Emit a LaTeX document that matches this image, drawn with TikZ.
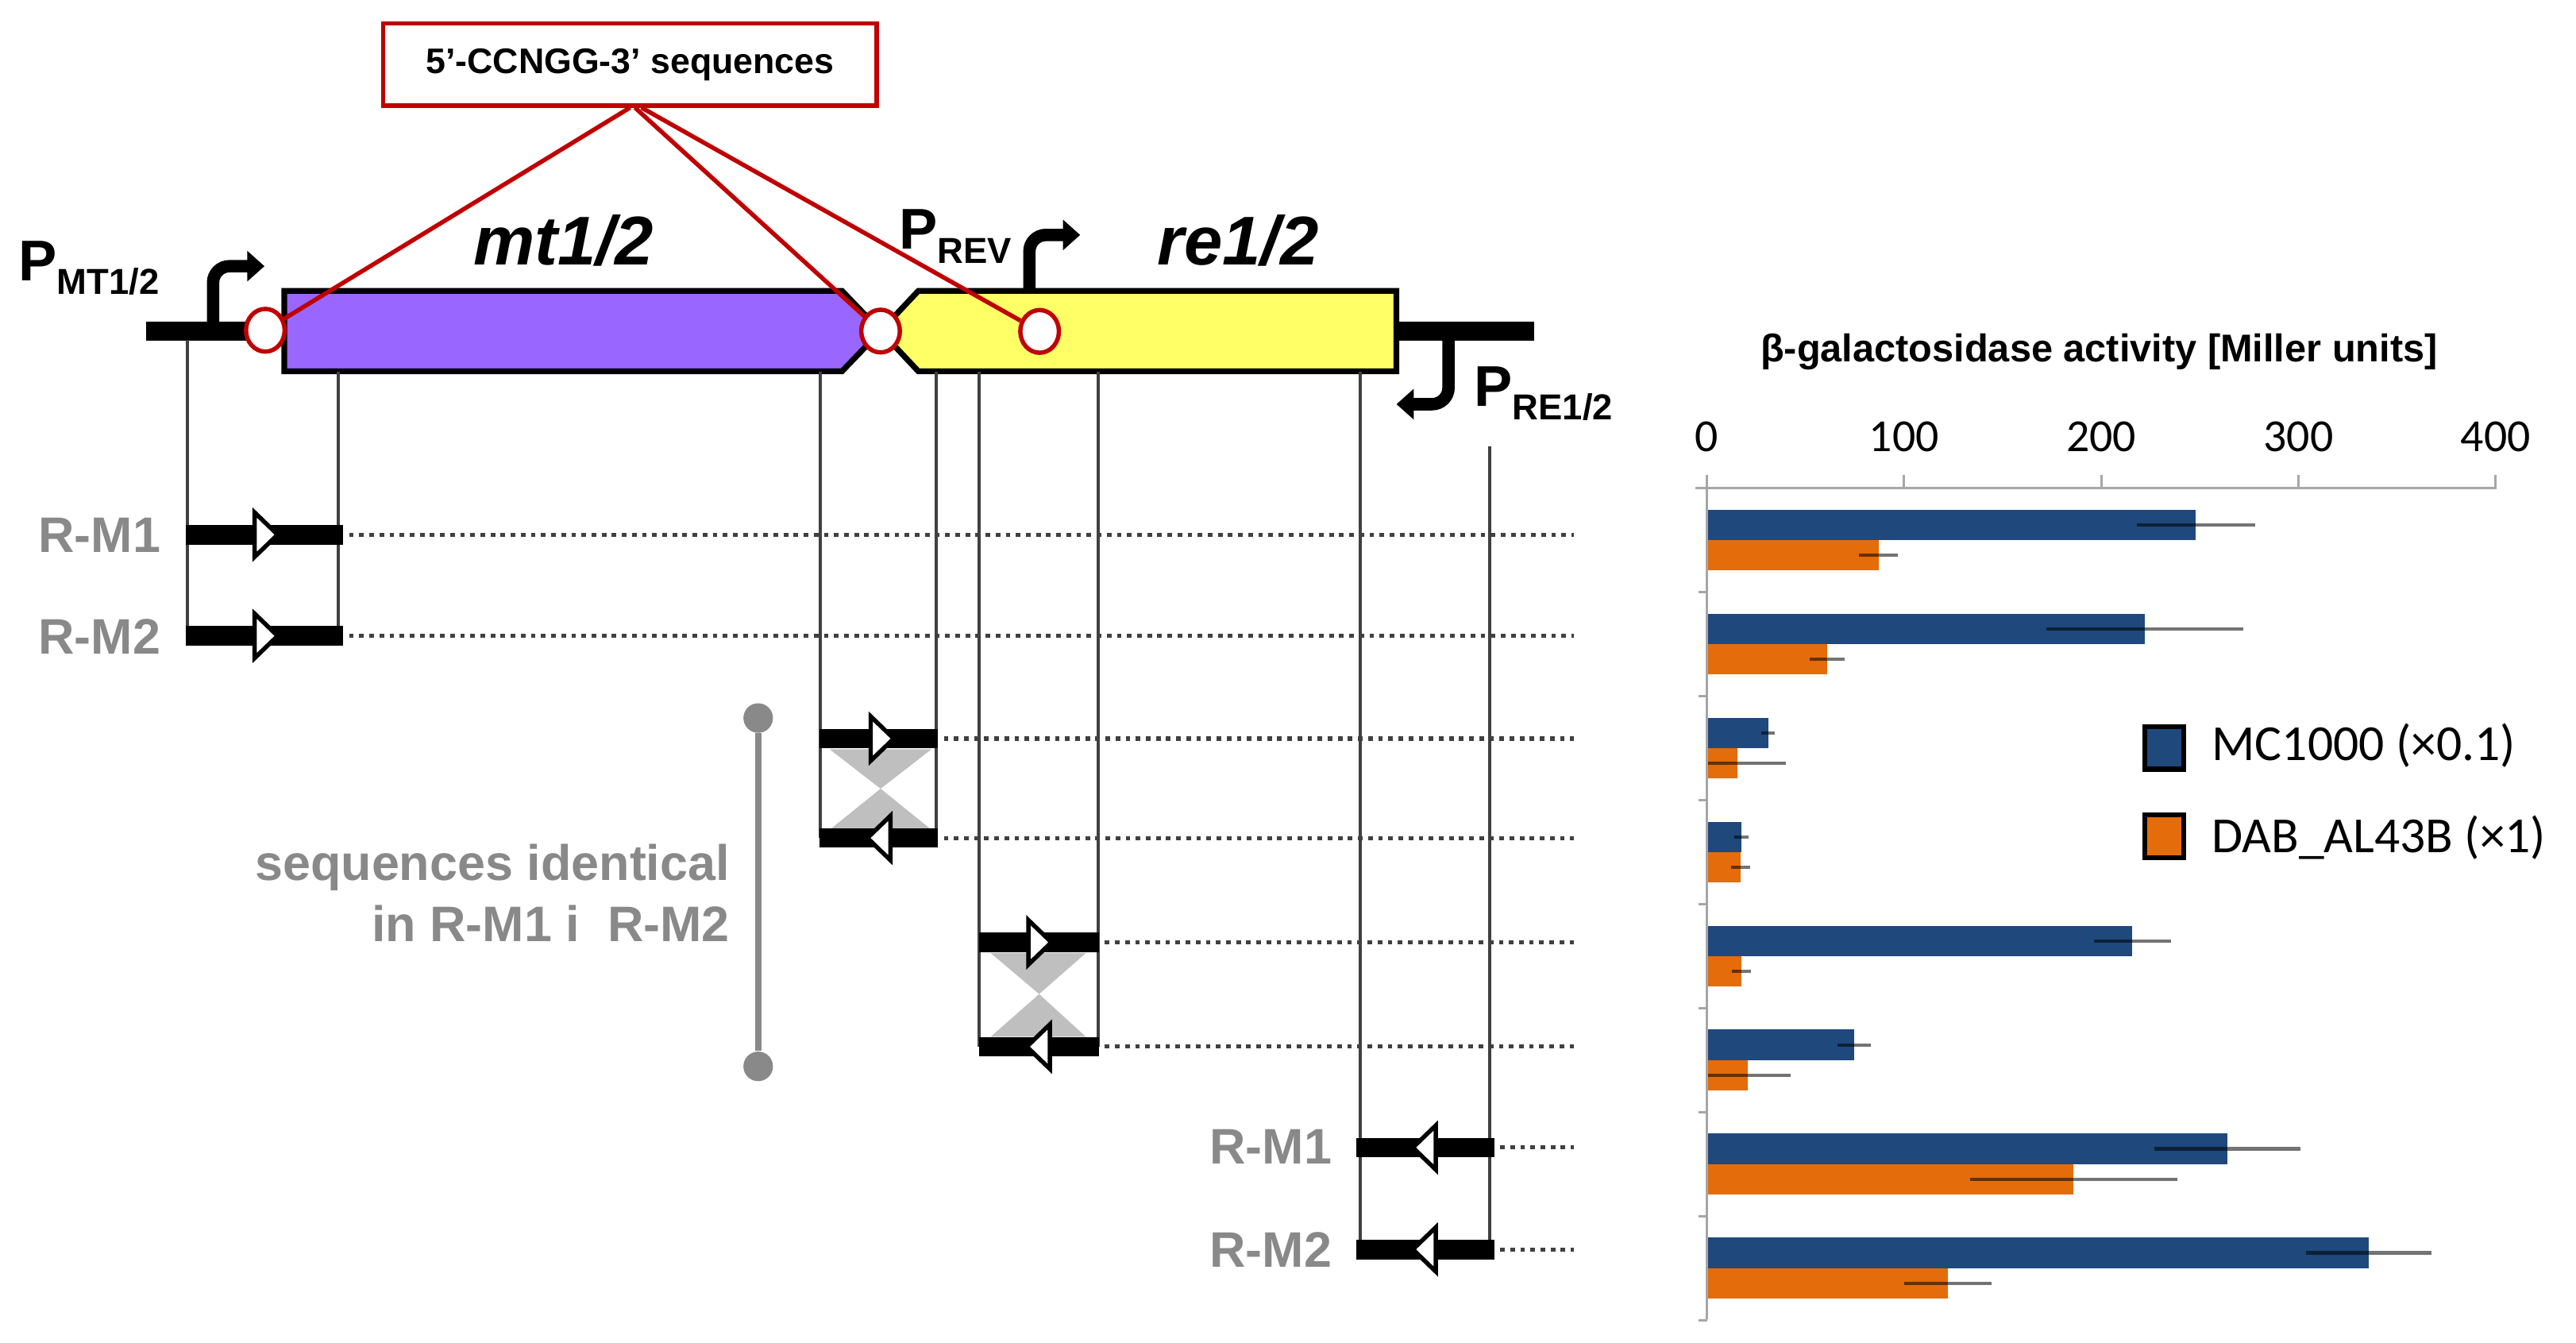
\documentclass[tikz,border=0pt]{standalone}
\usepackage{fontspec}
\setmainfont{Liberation Sans}
\newfontfamily\calib{Carlito}
\usetikzlibrary{arrows.meta,shapes.geometric}

\definecolor{mtpurple}{RGB}{153,102,255}
\definecolor{reyellow}{RGB}{255,255,102}
\definecolor{sitered}{RGB}{192,0,0}
\definecolor{labgray}{RGB}{137,137,137}
\definecolor{lngray}{RGB}{64,64,64}
\definecolor{hgray}{RGB}{191,191,191}
\definecolor{axgray}{RGB}{166,166,166}
\definecolor{mcblue}{RGB}{31,73,125}
\definecolor{dabor}{RGB}{228,108,10}

\newcommand{\fsz}[1]{\fontsize{#1}{#1}\selectfont}

\tikzset{
  dna/.style={line width=6.8pt},
  gene/.style={draw=black, line width=2pt, line join=miter},
  site/.style={ellipse, draw=sitered, fill=white, line width=1.5pt, minimum width=0.47cm, minimum height=0.52cm, inner sep=0pt},
  siteline/.style={draw=sitered, line width=1.5pt},
  prom/.style={line width=4.3pt, rounded corners=0.2cm, -{Triangle[length=0.21cm,width=0.36cm]}},
  guide/.style={draw=lngray, line width=1.1pt},
  primer/.style={line width=6.8pt},
  tri/.style={draw=black, fill=white, line width=1.5pt, line join=miter},
  dots/.style={draw=lngray, line width=1.4pt, dash pattern=on 1.6pt off 1.9pt},
  plab/.style={inner sep=0pt, anchor=base west, font=\bfseries\fsz{19.9}},
  glab/.style={inner sep=0pt, anchor=base, font=\bfseries\itshape\fsz{23.9}},
  lab/.style={inner sep=0pt, font=\bfseries\fsz{17.3}, text=labgray},
  dotend/.style={circle, fill=labgray, minimum size=0.36cm, inner sep=0pt},
  axis/.style={draw=axgray, line width=0.85pt},
  errbar/.style={draw=black, draw opacity=0.55, line width=1.15pt},
  numlab/.style={inner sep=0pt, anchor=base, font=\calib\fsz{15.9}},
  legbox/.style={draw=black, line width=1.7pt, minimum width=0.474cm, minimum height=0.52cm, inner sep=0pt},
  legtext/.style={inner sep=0pt, anchor=base west, font=\calib\fsz{17.5}}
}

\begin{document}
\begin{tikzpicture}[x=0.02cm, y=-0.02cm]
\useasboundingbox (0,0) rectangle (1568,817);

\draw[dna] (89,201.6) -- (175,201.6);
\draw[dna] (848,201.6) -- (934,201.6);
\draw[gene, fill=mtpurple] (173,177) -- (512.5,177) -- (536,201.5) -- (512.5,226) -- (173,226) -- cycle;
\draw[gene, fill=reyellow] (536,201.5) -- (559,177) -- (850,177) -- (850,226) -- (559,226) -- cycle;

\draw[prom] (129.7,197) -- (129.7,162) -- (161,162);
\draw[prom] (626.6,178) -- (626.6,143) -- (657.5,143);
\draw[prom] (881.7,206) -- (881.7,246) -- (850,246);

\node[plab] (pmt) at (11,170.7) {P\raisebox{-4.7pt}{\fsz{12.5}MT1/2}};
\node[plab] (prev) at (547,151.4) {P\raisebox{-5.1pt}{\fsz{12.5}REV}};
\node[plab] (pre) at (897,247.3) {P\raisebox{-4.6pt}{\fsz{12.5}RE1/2}};
\node[glab] (gmt) at (343,161) {mt1/2};
\node[glab] (gre) at (753.5,161) {re1/2};

\node[draw=sitered, line width=1.5pt, minimum width=6.01cm, minimum height=1cm, inner sep=0pt, font=\bfseries\fsz{12.3}] (box) at (383.5,39.2) {5’-CCNGG-3’ sequences};
\node[site] (c1) at (161.5,201) {};
\node[site] (c2) at (536,201.5) {};
\node[site] (c3) at (632.8,201.7) {};
\draw[siteline] (box.south) -- (c1);
\draw[siteline] ([xshift=0.06cm]box.south) -- (c2);
\draw[siteline] ([xshift=0.14cm]box.south) -- (c3);

\draw[guide] (114.3,207) -- (114.3,387);
\draw[guide] (206,226) -- (206,387);
\draw[guide] (499.3,226) -- (499.3,510);
\draw[guide] (570,226) -- (570,510);
\draw[guide] (596,226) -- (596,637);
\draw[guide] (668.5,226) -- (668.5,637);
\draw[guide] (827.8,226) -- (827.8,760.4);
\draw[guide] (907,271.5) -- (907,760.4);

\fill[hgray] (505,456) -- (567,456) -- (536,480) -- cycle;
\fill[hgray] (536,480) -- (505,505) -- (567,505) -- cycle;
\fill[hgray] (603,580) -- (661,580) -- (632.5,605) -- cycle;
\fill[hgray] (632.5,605) -- (603,631) -- (661,631) -- cycle;

\foreach \yy/\xa/\xb/\tb/\tt in {325.4/113/209/155/169, 387/113/209/155/169, 449.5/499/571/530/544, 510/499/571/542/528, 573.5/596/669/626/640, 637/596/669/639/625, 698.4/825.5/909.6/874/860, 760.4/825.5/909.6/874/860}{
  \draw[primer] (\xa,\yy) -- (\xb,\yy);
  \draw[tri] (\tb,\yy-13.5) -- (\tt,\yy) -- (\tb,\yy+13.5) -- cycle;
  \draw[dots] (\xb+3.5,\yy) -- (958,\yy);
}

\node[lab, anchor=base west] (lrm1) at (23,336) {R-M1};
\node[lab, anchor=base west] (lrm2) at (23,398) {R-M2};
\node[lab, anchor=base west] (rrm1) at (736,708.5) {R-M1};
\node[lab, anchor=base west] (rrm2) at (736,771) {R-M2};
\node[lab, anchor=base east] (seq1) at (444.5,535.6) {sequences identical};
\node[lab, anchor=base east] (seq2) at (444.5,572.8) {in R-M1 i\ \ R-M2};
\node[dotend] (b1) at (461.5,437) {};
\node[dotend] (b2) at (461.5,649) {};
\draw[draw=labgray, line width=2.3pt] (b1) -- (b2);

\node[inner sep=0pt, anchor=base, font=\bfseries\fsz{13.4}] (ttl) at (1277.7,220) {β-galactosidase activity [Miller units]};

\foreach \k/\b/\be/\o/\oe in {1/248/30/87/10, 2/222/50/61/9, 3/31/3.5/15.4/24.6, 4/17.5/3.5/17.1/5, 5/215.7/19.5/17.5/5, 6/74.7/8.3/20.7/21.7, 7/264/37/186/52.5, 8/335.7/32/122.2/22}{
  \pgfmathsetmacro{\cy}{297+63.3*(\k-0.5)}
  \pgfmathsetmacro{\blo}{max(\b-\be,0)}
  \pgfmathsetmacro{\olo}{max(\o-\oe,0)}
  \fill[mcblue] (1039,{\cy-18.5}) rectangle ({1039+1.2*\b},\cy);
  \fill[dabor] (1039,\cy) rectangle ({1039+1.2*\o},{\cy+18.5});
  \draw[errbar] ({1039+1.2*\blo},{\cy-9.25}) -- ({1039+1.2*(\b+\be)},{\cy-9.25});
  \draw[errbar] ({1039+1.2*\olo},{\cy+9.25}) -- ({1039+1.2*(\o+\oe)},{\cy+9.25});
}

\draw[axis] (1032,297) -- (1519.5,297);
\draw[axis] (1039,297) -- (1039,803);
\foreach \v in {0,100,200,300,400}{
  \draw[axis] ({1039+1.2*\v},289) -- ({1039+1.2*\v},297);
  \node[numlab] (n\v) at ({1039+1.2*\v},274.6) {\v};
}
\foreach \k in {1,...,8}
  \draw[axis] (1034,{297+63.3*\k}) -- (1039,{297+63.3*\k});

\node[legbox, fill=mcblue] (lg1) at (1317.4,455.1) {};
\node[legtext] (lt1) at (1346,463) {MC1000 (×0.1)};
\node[legbox, fill=dabor] (lg2) at (1317.4,509.1) {};
\node[legtext] (lt2) at (1346,518.8) {DAB\_AL43B (×1)};
\end{tikzpicture}
\end{document}
